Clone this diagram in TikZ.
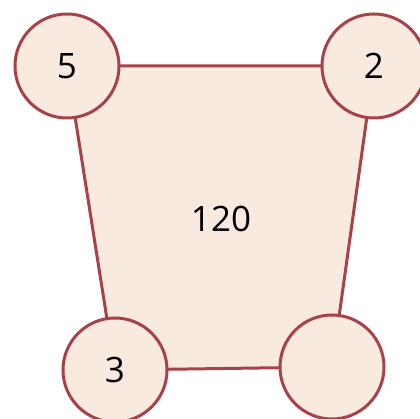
\documentclass[tikz,border=0pt]{standalone}
\usepackage{fontspec}
\setmainfont{Open Sans}
\definecolor{edgec}{HTML}{A8424A}
\definecolor{fillc}{HTML}{F9EAE0}
\begin{document}
\begin{tikzpicture}[x=1pt,y=-1pt,
  vert/.style={circle,draw=edgec,fill=fillc,line width=3pt,minimum size=104pt,inner sep=0pt,font=\fontsize{35}{40}\selectfont},
  face/.style={draw=edgec,fill=fillc,line width=3pt}]
\useasboundingbox (0,0) rectangle (420,419);
\coordinate (ctl) at (67,66);
\coordinate (ctr) at (374,66);
\coordinate (cbr) at (332,367);
\coordinate (cbl) at (115,370);
\draw[face] (ctl) -- (ctr) -- (cbr) -- (cbl) -- cycle;
\node[font=\fontsize{35}{40}\selectfont] (f) at (221,219) {120};
\node[vert] (a) at (ctl) {5};
\node[vert] (b) at (ctr) {2};
\node[vert] (c) at (cbl) {3};
\node[vert] (d) at (cbr) {};
\end{tikzpicture}
\end{document}
